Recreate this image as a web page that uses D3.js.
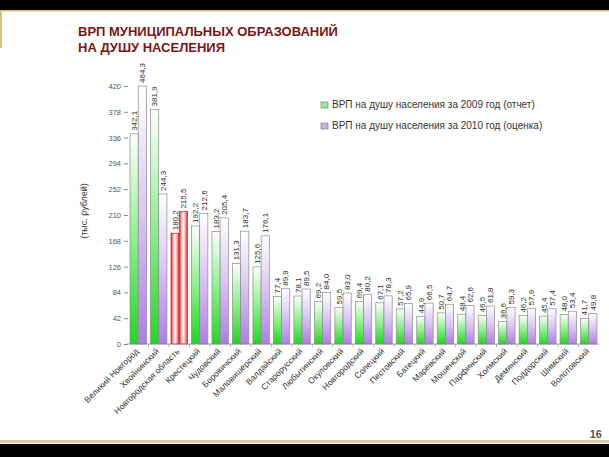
<!DOCTYPE html>
<html><head><meta charset="utf-8">
<script src="https://cdn.jsdelivr.net/npm/d3@7"></script>
<style>
html,body{margin:0;padding:0;background:#fff;}
svg{display:block;}
</style></head>
<body>
<script>
const categories = ["Великий Новгород","Хвойнинский","Новгородская область","Крестецкий","Чудовский","Боровичский","Маловишерский","Валдайский","Старорусский","Любытинский","Окуловский","Новгородский","Солецкий","Пестовский","Батецкий","Маревский","Мошенской","Парфинский","Холмский","Демянский","Поддорский","Шимский","Волотовский"];
const values2009 = [342.1,381.9,180.2,192.2,183.2,131.3,125.6,77.4,78.1,69.2,59.5,69.4,67.1,57.2,44.9,50.7,48.4,46.5,36.6,46.2,45.4,48.0,41.7];
const values2010 = [464.3,244.3,215.5,212.6,205.4,183.7,176.1,89.9,89.5,84.0,83.0,80.2,78.3,65.9,66.5,64.7,62.6,61.8,59.3,57.9,57.4,53.4,49.8];
const yTicks = [0,42,84,126,168,210,252,294,336,378,420];
const seriesNames = ["ВРП на душу населения за 2009 год (отчет)","ВРП на душу населения за 2010 год (оценка)"];
const highlightCategory = "Новгородская область";
const titleLines = ["ВРП МУНИЦИПАЛЬНЫХ ОБРАЗОВАНИЙ","НА ДУШУ НАСЕЛЕНИЯ"];
const yTitle = "(тыс. рублей)";
const pageNumber = "16";

const W = 609, H = 457;
const svg = d3.select("body").append("svg").attr("width", W).attr("height", H);
const defs = svg.append("defs");

function vgrad(id, c1, cm, c2){
  const g = defs.append("linearGradient").attr("id", id).attr("x1",0).attr("y1",0).attr("x2",0).attr("y2",1);
  g.append("stop").attr("offset","0%").attr("stop-color","#ffffff");
  g.append("stop").attr("offset","50%").attr("stop-color",cm);
  g.append("stop").attr("offset","100%").attr("stop-color",c2);
}
vgrad("gGreen", "#fff", "#8cf08c", "#1ed81e");
vgrad("gPurple", "#fff", "#dcc4f4", "#ad7ee6");
const rg = defs.append("linearGradient").attr("id","gRed").attr("x1",0).attr("y1",0).attr("x2",1).attr("y2",0);
rg.append("stop").attr("offset","0%").attr("stop-color","#e8262a");
rg.append("stop").attr("offset","30%").attr("stop-color","#f8b8b8");
rg.append("stop").attr("offset","50%").attr("stop-color","#ffffff");
rg.append("stop").attr("offset","70%").attr("stop-color","#f8b8b8");
rg.append("stop").attr("offset","100%").attr("stop-color","#e8262a");

// frame decorations
svg.append("rect").attr("x",0).attr("y",0).attr("width",W).attr("height",10).attr("fill","#000");
svg.append("rect").attr("x",0).attr("y",10).attr("width",W).attr("height",1.5).attr("fill","#d8c27a");
svg.append("rect").attr("x",0).attr("y",10).attr("width",2).attr("height",38).attr("fill","#d8c27a");
svg.append("rect").attr("x",0).attr("y",440).attr("width",W).attr("height",3).attr("fill","#d9cca2");
svg.append("rect").attr("x",0).attr("y",444).attr("width",W).attr("height",13).attr("fill","#000");
svg.append("text").attr("x",602).attr("y",438).attr("text-anchor","end")
  .attr("font-family","Liberation Sans, Arial, sans-serif").attr("font-size",11).attr("font-weight","bold")
  .attr("fill","#555").text(pageNumber);

// title
svg.selectAll("text.title").data(titleLines).enter().append("text").attr("class","title")
  .attr("x",78).attr("y",(d,i)=>36+i*16)
  .attr("font-family","Liberation Sans, Arial, sans-serif").attr("font-size",13).attr("font-weight","bold")
  .attr("fill","#7b1416").text(d=>d);

// scales
const x = d3.scaleBand().domain(categories).range([128, 599]).paddingInner(0.2).paddingOuter(0.1);
const xs = d3.scaleBand().domain([0,1]).range([0, x.bandwidth()]).padding(0);
const y = d3.scaleLinear().domain([0,420]).range([344, 86]).clamp(true);

// y axis
const yAxis = d3.axisLeft(y).tickValues(yTicks).tickSize(4).tickPadding(3).tickFormat(d3.format("d"));
const ya = svg.append("g").attr("transform","translate(128,0)").call(yAxis);
ya.select(".domain").remove();
ya.selectAll("line").attr("stroke","#888");
ya.selectAll("text").attr("font-family","Liberation Sans, Arial, sans-serif").attr("font-size",7.5).attr("fill","#555");

svg.append("text").attr("transform","translate(87,211) rotate(-90)").attr("text-anchor","middle")
  .attr("font-family","Liberation Sans, Arial, sans-serif").attr("font-size",9).attr("fill","#333").text(yTitle);

// bars
const rows = categories.map((c,i)=>({c, vals:[values2009[i], values2010[i]]}));
const groups = svg.append("g").selectAll("g").data(rows).enter().append("g")
  .attr("transform", d=>`translate(${x(d.c)},0)`);
groups.selectAll("rect").data(d=>d.vals.map((v,k)=>({v,k,c:d.c}))).enter().append("rect")
  .attr("x", d=>xs(d.k)).attr("width", xs.bandwidth())
  .attr("y", d=>y(d.v)).attr("height", d=>y(0)-y(d.v))
  .attr("fill", d=> d.c===highlightCategory ? "url(#gRed)" : (d.k===0 ? "url(#gGreen)" : "url(#gPurple)"))
  .attr("stroke", d=> d.c===highlightCategory ? "#d81c1c" : "#8a8a8a").attr("stroke-width",0.7);
groups.selectAll("text").data(d=>d.vals.map((v,k)=>({v,k,c:d.c}))).enter().append("text")
  .attr("transform", d=>`translate(${xs(d.k)+xs.bandwidth()/2+2.8},${y(d.v)-3}) rotate(-90)`)
  .attr("font-family","Liberation Sans, Arial, sans-serif").attr("font-size",8)
  .attr("fill", d=> d.k===0 ? "#1e3a1e" : "#2e1e3e")
  .text(d=>d3.format(".1f")(d.v).replace(".",","));

// x axis
const xAxisLine = svg.append("g").attr("transform","translate(0,344)");
xAxisLine.append("line").attr("x1",126).attr("x2",599).attr("stroke","#888").attr("stroke-width",0.8);
xAxisLine.selectAll("line.tk").data(categories.slice(1)).enter().append("line").attr("class","tk")
  .attr("x1",d=>x(d)-x.step()*x.paddingInner()/2).attr("x2",d=>x(d)-x.step()*x.paddingInner()/2)
  .attr("y1",0).attr("y2",3).attr("stroke","#888").attr("stroke-width",0.7);
svg.append("g").selectAll("text").data(categories).enter().append("text")
  .attr("transform", d=>`translate(${x(d)+x.bandwidth()/2+1},${352}) rotate(-45)`)
  .attr("text-anchor","end")
  .attr("font-family","Liberation Sans, Arial, sans-serif").attr("font-size",8.5).attr("fill","#333")
  .text(d=>d);

// legend
const leg = svg.append("g").selectAll("g").data(seriesNames).enter().append("g")
  .attr("transform",(d,i)=>`translate(321,${108+i*21})`);
leg.append("rect").attr("x",0).attr("y",-6).attr("width",7).attr("height",6)
  .attr("fill",(d,i)=> i===0 ? "#8cf08c" : "#c8b0ee").attr("stroke","#777").attr("stroke-width",0.6);
leg.append("text").attr("x",11).attr("y",0)
  .attr("font-family","Liberation Sans, Arial, sans-serif").attr("font-size",10).attr("fill","#333").text(d=>d);
</script>
</body></html>
